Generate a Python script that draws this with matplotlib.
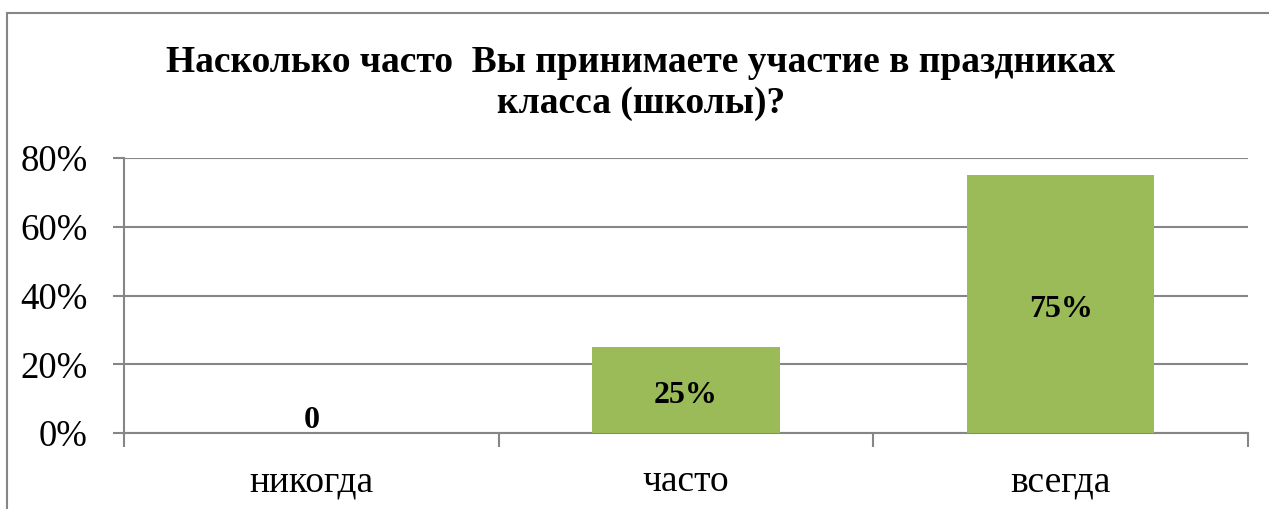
import matplotlib
matplotlib.use("Agg")
import matplotlib.pyplot as plt
from matplotlib.patches import Rectangle
from matplotlib.ticker import FuncFormatter, FixedLocator
from matplotlib.transforms import offset_copy

categories = ["никогда", "часто", "всегда"]
values = [0.0, 0.25, 0.75]
labels = ["0", "25%", "75%"]
title = "Насколько часто  Вы принимаете участие в праздниках\nкласса (школы)?"

W, H = 1269, 509
fig = plt.figure(figsize=(W / 100, H / 100), dpi=100)
plt.rcParams['font.family'] = ['Liberation Serif', 'DejaVu Serif']

# outer chart border
fig.patches.append(Rectangle((7 / W, -0.1), 1.2, (H - 13) / H + 0.1, transform=fig.transFigure,
                             fill=False, edgecolor="#868686", linewidth=1.5))

ax = fig.add_axes([124 / W, 1 - 433 / H, (1248 - 124) / W, (433 - 158) / H])
x = list(range(len(categories)))
ax.bar(x, values, width=0.5, color="#9BBB59", zorder=3)
ax.set_xlim(-0.5, len(categories) - 0.5)
ax.set_ylim(0, 0.8)
ax.yaxis.set_major_locator(FixedLocator([0, 0.2, 0.4, 0.6, 0.8]))
ax.yaxis.set_major_formatter(FuncFormatter(lambda v, p: f"{v*100:.0f}%"))
ax.grid(axis="y", color="#868686", linewidth=1.5, zorder=0)
for s in ["top", "right"]:
    ax.spines[s].set_visible(False)
for s in ["left", "bottom"]:
    ax.spines[s].set_color("#868686")
    ax.spines[s].set_linewidth(1.5)
ax.set_xticks(x)
ax.set_xticklabels(categories, fontsize=27)
ax.tick_params(axis="x", length=0, pad=23)
ax.set_xticks([i - 0.5 for i in range(len(categories) + 1)], minor=True)
ax.tick_params(axis="x", which="minor", length=10, width=1.5, color="#868686", direction="out")
ax.tick_params(axis="y", length=8, width=1.5, color="#868686", direction="out", labelsize=26.5, pad=18)

down = offset_copy(ax.transData, fig=fig, x=0, y=-5, units="dots")
for xi, v, lab in zip(x, values, labels):
    if v > 0:
        ax.text(xi, v / 2, lab, ha="center", va="center", fontsize=23, fontweight="bold",
                zorder=4, transform=down)
    else:
        ax.text(xi, 0, lab, ha="center", va="baseline", fontsize=23, fontweight="bold", zorder=4,
                transform=offset_copy(ax.transData, fig=fig, x=0, y=5, units="dots"))

fig.text(641 / W, 1 - 83 / H, title, ha="center", va="center", multialignment="center",
         fontsize=27, fontweight="bold", linespacing=1.2)

fig.savefig("out.png", dpi=100)
